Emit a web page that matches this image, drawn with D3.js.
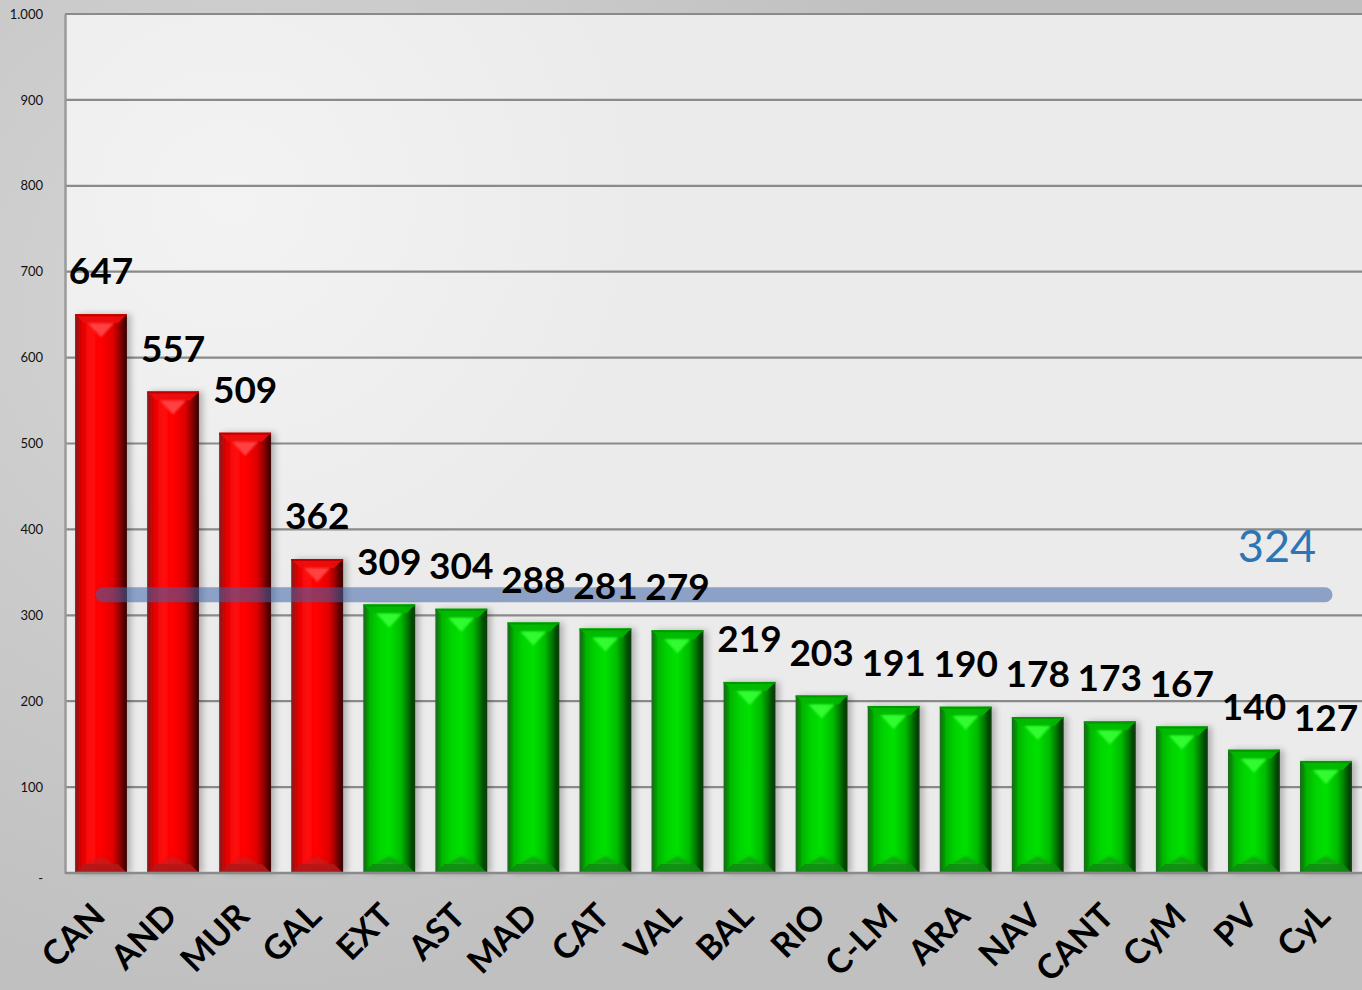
<!DOCTYPE html>
<html>
<head>
<meta charset="utf-8">
<script src="https://cdn.jsdelivr.net/npm/d3@7"></script>
<style>
  html, body { margin: 0; padding: 0; background: #c4c4c4; }
  svg { display: block; }
</style>
</head>
<body>
<svg id="chart" width="1362" height="990"></svg>
<script>
// ---- DATA ----
const categories = ["CAN","AND","MUR","GAL","EXT","AST","MAD","CAT","VAL","BAL","RIO","C-LM","ARA","NAV","CANT","CyM","PV","CyL"];
const values = [647,557,509,362,309,304,288,281,279,219,203,191,190,178,173,167,140,127];
const average = 324;
const highlighted = ["CAN","AND","MUR","GAL"];
const yTicks = [0,100,200,300,400,500,600,700,800,900,1000];
const yTickLabels = ["-","100","200","300","400","500","600","700","800","900","1.000"];

// ---- LAYOUT ----
const W = 1362, H = 990;
const plot = { left: 65, right: 1362, top: 14, bottom: 873 };

const svg = d3.select("#chart");
const defs = svg.append("defs");

const bgGrad = defs.append("radialGradient").attr("id","bgGrad")
  .attr("gradientUnits","userSpaceOnUse").attr("cx",260).attr("cy",300).attr("r",700);
bgGrad.append("stop").attr("offset",0).attr("stop-color","#d6d6d6");
bgGrad.append("stop").attr("offset",1).attr("stop-color","#c0c0c0");

const plotGrad = defs.append("radialGradient").attr("id","plotGrad")
  .attr("gradientUnits","userSpaceOnUse").attr("cx",230).attr("cy",200).attr("r",420);
plotGrad.append("stop").attr("offset",0).attr("stop-color","#f3f3f3");
plotGrad.append("stop").attr("offset",1).attr("stop-color","#ebebeb");

function barGradient(id, stops) {
  const g = defs.append("linearGradient").attr("id", id).attr("x1",0).attr("x2",1).attr("y1",0).attr("y2",0);
  stops.forEach(s => g.append("stop").attr("offset", s[0]).attr("stop-color", s[1]));
}
barGradient("redGrad", [[0,"#8a1414"],[0.07,"#b01010"],[0.12,"#e00000"],[0.3,"#ff0c0c"],[0.5,"#ff0000"],[0.72,"#e00000"],[0.84,"#a00000"],[0.93,"#5a0000"],[1,"#3a0808"]]);
barGradient("greenGrad", [[0,"#1a6a1a"],[0.07,"#0a8a0a"],[0.12,"#00b400"],[0.3,"#00d400"],[0.5,"#00e000"],[0.72,"#00bb00"],[0.84,"#008000"],[0.93,"#004a00"],[1,"#0e3a0e"]]);

const shadow = defs.append("filter").attr("id","shadow").attr("x","-20%").attr("y","-5%").attr("width","150%").attr("height","110%");
shadow.append("feGaussianBlur").attr("in","SourceAlpha").attr("stdDeviation",3);
shadow.append("feOffset").attr("dx",4).attr("dy",0).attr("result","ob");
shadow.append("feComponentTransfer").append("feFuncA").attr("type","linear").attr("slope",0.25);
const fm = shadow.append("feMerge");
fm.append("feMergeNode");
fm.append("feMergeNode").attr("in","SourceGraphic");

const blur = defs.append("filter").attr("id","soft");
blur.append("feGaussianBlur").attr("stdDeviation",1.2);

svg.append("rect").attr("width",W).attr("height",H).attr("fill","url(#bgGrad)");
svg.append("rect").attr("x",plot.left).attr("y",plot.top)
  .attr("width",plot.right-plot.left).attr("height",plot.bottom-plot.top)
  .attr("fill","url(#plotGrad)");

const x = d3.scaleBand().domain(categories).range([plot.left, plot.right])
  .paddingInner(0.28).paddingOuter(0.14);
const y = d3.scaleLinear().domain([0,1000]).range([plot.bottom, plot.top]);
const cxOf = c => x(c) + x.bandwidth()/2;

svg.append("g").selectAll("line").data(yTicks.filter(t => t > 0)).join("line")
  .attr("x1", plot.left).attr("x2", plot.right)
  .attr("y1", d => y(d)).attr("y2", d => y(d))
  .attr("stroke","#8a8a8a").attr("stroke-width",2.2);

const yAxis = d3.axisLeft(y).tickValues(yTicks)
  .tickFormat((d,i) => yTickLabels[i]).tickSize(0).tickPadding(22);
const yg = svg.append("g").attr("transform",`translate(${plot.left},0)`).call(yAxis);
yg.select(".domain").attr("stroke","#9a9a9a").attr("stroke-width",2.5);
yg.selectAll("text").attr("font-family","Lato, 'Open Sans', sans-serif")
  .attr("font-size",13).attr("fill","#111").attr("dy","0.32em");
yg.selectAll(".tick").filter(d => d === 0).select("text").attr("dy","0.75em");

const capLift = 3;
const bars = svg.append("g").selectAll("g.bar").data(categories.map((c,i) => ({c, v: values[i]}))).join("g")
  .attr("class","bar");

bars.each(function(d) {
  const g = d3.select(this);
  const red = highlighted.includes(d.c);
  const x0 = x(d.c), bw = x.bandwidth(), x1 = x0 + bw;
  const top = y(d.v) - capLift, bot = y(0);
  const cx = x0 + bw/2;
  g.append("rect").attr("x", x0).attr("y", top).attr("width", bw).attr("height", bot - top)
    .attr("fill", red ? "url(#redGrad)" : "url(#greenGrad)").attr("filter","url(#shadow)");
  const bev = 9;
  g.append("polygon")
    .attr("points", [[x0,top],[x1,top],[x1-bev,top+bev],[x0+bev,top+bev]].map(p => p.join(",")).join(" "))
    .attr("fill", red ? "#ee0c0c" : "#00b800").attr("opacity",0.9);
  g.append("line").attr("x1",x0).attr("x2",x1).attr("y1",top+1).attr("y2",top+1)
    .attr("stroke", red ? "#c00000" : "#009a00").attr("stroke-width",2);
  g.append("polygon")
    .attr("points", [[cx-13,top+bev],[cx+13,top+bev],[cx,top+bev+14]].map(p => p.join(",")).join(" "))
    .attr("fill", red ? "#ff4a4a" : "#38ff38").attr("filter","url(#soft)").attr("opacity",0.9);
  g.append("polygon")
    .attr("points", [[x0,bot],[x1,bot],[x1-bev,bot-bev],[x0+bev,bot-bev]].map(p => p.join(",")).join(" "))
    .attr("fill", red ? "#b01818" : "#128a12").attr("opacity",0.9);
  g.append("polygon")
    .attr("points", [[cx-14,bot-bev],[cx+14,bot-bev],[cx,bot-bev-8]].map(p => p.join(",")).join(" "))
    .attr("fill", red ? "#c81a1a" : "#159a15").attr("filter","url(#soft)").attr("opacity",0.8);
});

svg.append("line").attr("x1",plot.left).attr("x2",plot.right)
  .attr("y1",y(0)).attr("y2",y(0)).attr("stroke","#8a8a8a").attr("stroke-width",2.5);

// average line
svg.append("line")
  .attr("x1", cxOf(categories[0]) + 2)
  .attr("x2", cxOf(categories[categories.length-1]) - 1)
  .attr("y1", y(average)).attr("y2", y(average))
  .attr("stroke","#3f62a8").attr("stroke-opacity",0.55)
  .attr("stroke-width",15).attr("stroke-linecap","round");
svg.append("text")
  .attr("x", cxOf(categories[categories.length-1]) - 49)
  .attr("y", y(average) - 33)
  .attr("text-anchor","middle")
  .attr("font-family","Lato, 'Open Sans', sans-serif").attr("font-size",45)
  .attr("fill","#2e75b6").text(average);

// value labels
svg.append("g").selectAll("text").data(categories.map((c,i) => ({c, v: values[i]}))).join("text")
  .attr("x", d => cxOf(d.c))
  .attr("y", d => y(d.v) - 33)
  .attr("text-anchor","middle")
  .attr("font-family","Lato, 'Open Sans', sans-serif").attr("font-weight","bold").attr("font-size",37)
  .attr("fill","#000").text(d => d.v);

// x labels
svg.append("g").selectAll("text").data(categories).join("text")
  .attr("transform", d => `translate(${cxOf(d) + 6}, ${y(0) + 45}) rotate(-45)`)
  .attr("text-anchor","end")
  .attr("font-family","Lato, 'Open Sans', sans-serif").attr("font-weight","bold").attr("font-size",34)
  .attr("fill","#000").text(d => d);
</script>
</body>
</html>
